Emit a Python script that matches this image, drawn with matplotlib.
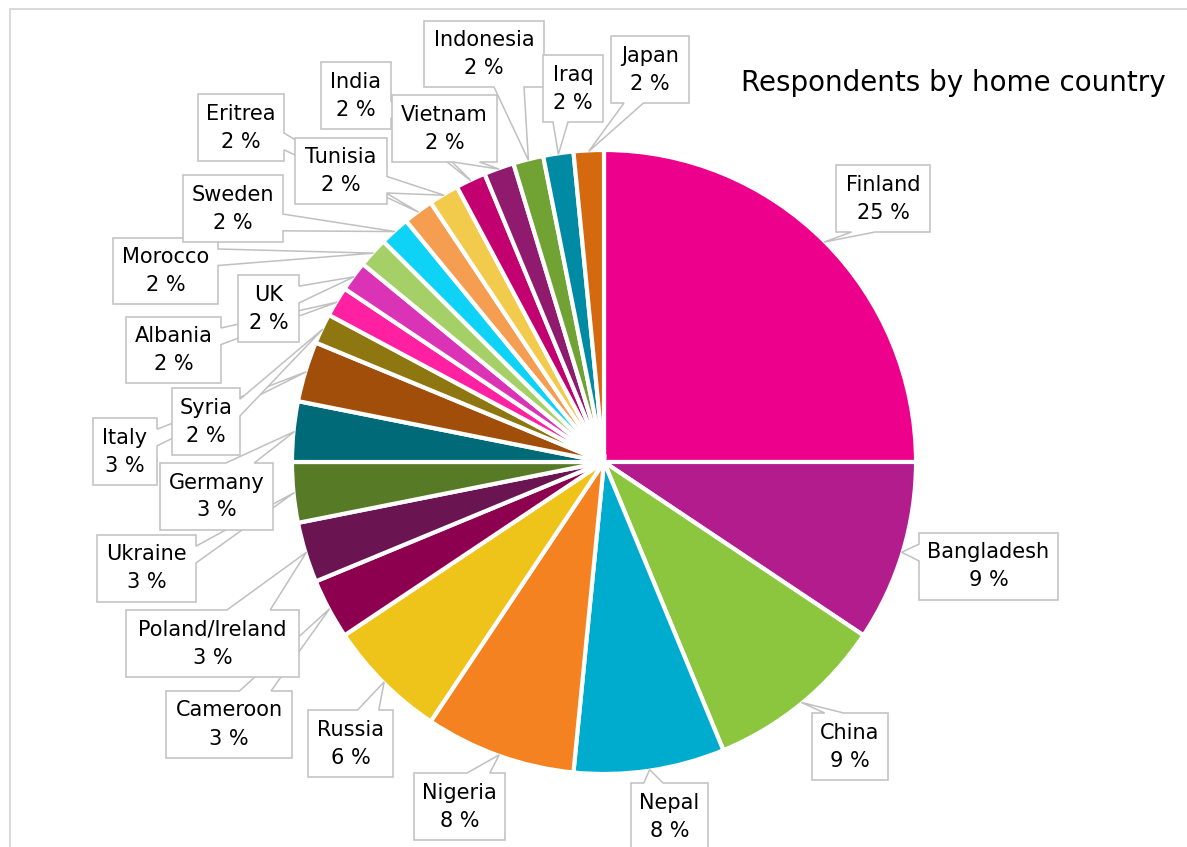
import matplotlib
matplotlib.use("Agg")
import matplotlib.pyplot as plt
from matplotlib.patches import Polygon
import numpy as np

# respondents per home country (clockwise from 12 o'clock)
countries = ["Finland", "Bangladesh", "China", "Nepal", "Nigeria", "Russia",
             "Cameroon", "Poland/Ireland", "Ukraine", "Germany", "Italy",
             "Syria", "Albania", "UK", "Morocco", "Sweden", "Eritrea",
             "Tunisia", "India", "Vietnam", "Indonesia", "Iraq", "Japan"]
counts = [16, 6, 6, 5, 5, 4, 2, 2, 2, 2, 2, 1, 1, 1, 1, 1, 1, 1, 1, 1, 1, 1, 1]
colors = ["#EC008C", "#B31C8D", "#8CC63F", "#00ACCD", "#F58220", "#EEC31A",
          "#8D0050", "#6A1452", "#577A27", "#006A78", "#A04E0A", "#8E7610",
          "#FF21A2", "#DB33B6", "#A5D068", "#0FD3F6", "#F59D50", "#F2CA4C",
          "#C30070", "#901B6E", "#71A234", "#008AA3", "#D5690F"]

title = "Respondents by home country"

W, H = 1187, 847
cx, cy, R = 604, 462, 312

# label boxes in pixels (left, top, right, bottom), y measured downward
boxes = {
    "Finland": (836, 165, 930, 232),
    "Bangladesh": (919, 533, 1058, 600),
    "China": (812, 713, 888, 780),
    "Nepal": (631, 783, 708, 850),
    "Nigeria": (414, 773, 505, 840),
    "Russia": (308, 710, 393, 777),
    "Cameroon": (166, 691, 292, 758),
    "Poland/Ireland": (126, 610, 299, 677),
    "Ukraine": (97, 535, 196, 602),
    "Germany": (160, 463, 273, 530),
    "Italy": (93, 418, 157, 485),
    "Syria": (172, 388, 240, 455),
    "Albania": (126, 317, 221, 383),
    "UK": (238, 275, 299, 342),
    "Morocco": (113, 238, 218, 304),
    "Sweden": (183, 175, 283, 242),
    "Eritrea": (198, 94, 284, 161),
    "Tunisia": (295, 138, 387, 204),
    "India": (321, 62, 391, 129),
    "Vietnam": (392, 95, 497, 162),
    "Indonesia": (424, 21, 544, 87),
    "Iraq": (543, 55, 603, 122),
    "Japan": (611, 36, 689, 103),
}


def fy(y):
    return H - y


def callout(x0, y0, x1, y1, tx, ty):
    # rectangle with a wedge tail pointing at (tx, ty)
    w, h = x1 - x0, y1 - y0
    dx = tx - (x0 + w / 2)
    dy = ty - (y0 + h / 2)
    dz = abs(dy) - abs(dx * h / w)
    if dz > 0:
        a, b = (x0 + w * 7 / 12, x0 + w * 10 / 12) if dx > 0 else (x0 + w * 2 / 12, x0 + w * 5 / 12)
        if dy > 0:
            pts = [(x0, y0), (x1, y0), (x1, y1), (b, y1), (tx, ty), (a, y1), (x0, y1)]
        else:
            pts = [(x0, y0), (a, y0), (tx, ty), (b, y0), (x1, y0), (x1, y1), (x0, y1)]
    else:
        a, b = (y0 + h * 7 / 12, y0 + h * 10 / 12) if dy > 0 else (y0 + h * 2 / 12, y0 + h * 5 / 12)
        if dx > 0:
            pts = [(x0, y0), (x1, y0), (x1, a), (tx, ty), (x1, b), (x1, y1), (x0, y1)]
        else:
            pts = [(x0, y0), (x1, y0), (x1, y1), (x0, y1), (x0, b), (tx, ty), (x0, a)]
    return [(px, fy(py)) for px, py in pts]


fig = plt.figure(figsize=(W / 100, H / 100), dpi=100)
ax = fig.add_axes([0, 0, 1, 1])

wedges, _ = ax.pie(counts, colors=colors, startangle=90, counterclock=False,
                   center=(cx, fy(cy)), radius=R, frame=True,
                   wedgeprops=dict(linewidth=3.0, edgecolor="white"))

total = sum(counts)
for i, (name, n, wdg) in enumerate(zip(countries, counts, wedges)):
    mid = np.deg2rad((wdg.theta1 + wdg.theta2) / 2)
    tx = cx + (R - 1) * np.cos(mid)
    ty = cy - (R - 1) * np.sin(mid)
    x0, y0, x1, y1 = boxes[name]
    poly = Polygon(callout(x0, y0, x1, y1, tx, ty), closed=True,
                   facecolor="white", edgecolor="#C0C0C0", linewidth=1.1,
                   zorder=5 + i * 0.1)
    ax.add_patch(poly)
    pct = round(100 * n / total)
    ax.text((x0 + x1) / 2, fy((y0 + y1) / 2), f"{name}\n{pct} %",
            ha="center", va="center", fontsize=15, linespacing=1.5,
            family="DejaVu Sans", color="black", zorder=5 + i * 0.1 + 0.05)

ax.text(741, fy(91), title, ha="left", va="baseline", fontsize=20,
        family="DejaVu Sans", color="black")

# chart area border (runs off the right and bottom)
ax.plot([10, 10, W + 20], [fy(H + 20), fy(8.5), fy(8.5)], color="#D9D9D9",
        linewidth=1.4, solid_joinstyle="miter", zorder=1)

ax.set_xlim(0, W)
ax.set_ylim(0, H)
ax.set_aspect("equal")
ax.axis("off")

fig.savefig("out.png", dpi=100, facecolor="white")
